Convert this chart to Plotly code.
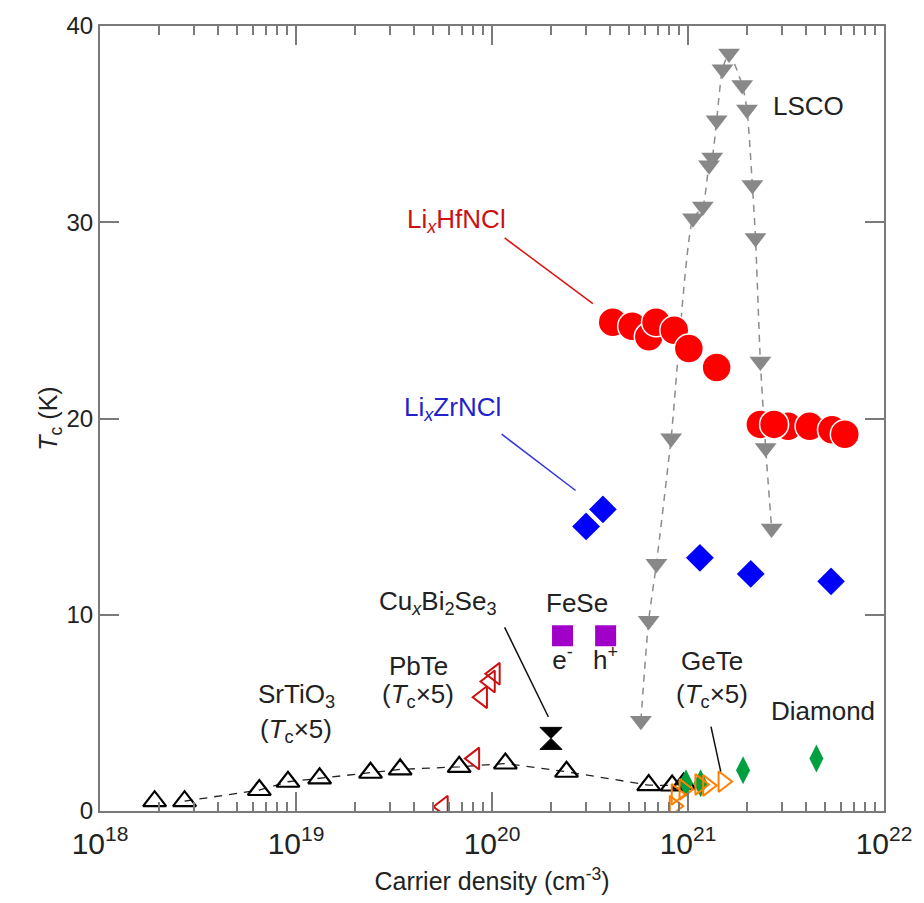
import numpy as np
import plotly.graph_objects as go

FONT = "Liberation Sans, Arial, sans-serif"

# ---------------- data ----------------
sto_n = [1.9e18, 2.7e18, 6.5e18, 9.1e18, 1.32e19, 2.4e19, 3.4e19, 6.8e19, 1.17e20,
         2.4e20, 6.3e20, 8.3e20, 9.5e20]
sto_tc = [0.5, 0.5, 1.07, 1.49, 1.66, 1.95, 2.12, 2.25, 2.42, 2.0, 1.32, 1.3, 1.4]

lsco_n = [5.75e20, 6.3e20, 6.9e20, 8.2e20, 1.06e21, 1.19e21, 1.28e21, 1.33e21, 1.40e21,
          1.50e21, 1.62e21, 1.89e21, 2.0e21, 2.13e21, 2.21e21, 2.34e21, 2.49e21, 2.67e21]
lsco_tc = [4.6, 9.7, 12.6, 19.0, 30.2, 30.8, 32.9, 33.3, 35.2, 37.8, 38.6,
           37.0, 35.75, 31.9, 29.2, 22.9, 18.5, 14.4]

hf_n = [4.13e20, 5.19e20, 6.31e20, 6.87e20, 8.51e20, 1.01e21, 1.40e21,
        2.34e21, 3.24e21, 2.75e21, 4.17e21, 5.43e21, 6.31e21]
hf_tc = [24.9, 24.7, 24.16, 24.9, 24.5, 23.57, 22.6,
         19.7, 19.6, 19.7, 19.6, 19.43, 19.2]

zr_n = [3.02e20, 3.68e20, 1.15e21, 2.09e21, 5.37e21]
zr_tc = [14.5, 15.37, 12.9, 12.08, 11.7]

pbte_n = [1.035e20, 9.77e19, 8.91e19, 8.13e19, 5.62e19]
pbte_tc = [6.99, 6.6, 5.8, 2.67, 0.22]

cubise_n = [2.0e20]
cubise_tc = [3.7]

fese_n = [2.29e20, 3.80e20]
fese_tc = [8.93, 8.93]
fese_carrier = ["e<sup>-</sup>", "h<sup>+</sup>"]

gete_n = [8.51e20, 8.71e20, 9.55e20, 1.15e21, 1.26e21, 1.51e21]
gete_tc = [0.25, 0.85, 1.1, 1.35, 1.3, 1.5]

diamond_n = [9.77e20, 1.16e21, 1.91e21, 4.52e21]
diamond_tc = [1.41, 1.41, 2.08, 2.67]

# label positions (carrier density, Tc) and texts
labels = [
    ("LSCO", 4.1e21, 35.9, "#222222"),
    ("Li<sub><i>x</i></sub>HfNCl", 6.6e19, 30.1, "#CC1111"),
    ("Li<sub><i>x</i></sub>ZrNCl", 6.3e19, 20.5, "#2222CC"),
    ("Cu<sub><i>x</i></sub>Bi<sub>2</sub>Se<sub>3</sub>", 5.3e19, 10.6, "#222222"),
    ("FeSe", 2.7e20, 10.6, "#222222"),
    ("PbTe", 4.2e19, 7.4, "#222222"),
    ("(<i>T</i><sub>c</sub>×5)", 4.2e19, 5.9, "#222222"),
    ("SrTiO<sub>3</sub>", 1.0e19, 5.9, "#222222"),
    ("(<i>T</i><sub>c</sub>×5)", 1.0e19, 4.1, "#222222"),
    ("GeTe", 1.33e21, 7.66, "#222222"),
    ("(<i>T</i><sub>c</sub>×5)", 1.33e21, 5.9, "#222222"),
    ("Diamond", 4.9e21, 5.1, "#222222"),
]

# leader lines: (n0, tc0, n1, tc1, color)
leaders = [
    (1.16e20, 29.2, 3.27e20, 25.85, "#DD1111"),
    (1.12e20, 19.2, 2.67e20, 16.33, "#3333DD"),
    (1.16e20, 9.36, 1.94e20, 4.79, "#111111"),
    (1.31e21, 4.3, 1.47e21, 2.0, "#111111"),
]

fig = go.Figure()

for n0, t0, n1, t1, c in leaders:
    fig.add_trace(go.Scatter(x=[n0, n1], y=[t0, t1], mode="lines",
                             line=dict(color=c, width=1.5), hoverinfo="skip"))

fig.add_trace(go.Scatter(x=sto_n[1:], y=sto_tc[1:], mode="lines",
                         line=dict(color="#222222", width=1.3, dash="8px,7px")))

fig.add_trace(go.Scatter(x=lsco_n, y=lsco_tc, mode="lines",
                         line=dict(color="#8C8C8C", width=1.5, dash="7px,6px", shape="spline", smoothing=0.6)))
fig.add_trace(go.Scatter(x=lsco_n, y=lsco_tc, mode="markers",
                         marker=dict(symbol="triangle-down", size=19, color="#888888",
                                     line=dict(color="#888888", width=0))))

fig.add_trace(go.Scatter(x=hf_n, y=hf_tc, mode="markers",
                         marker=dict(symbol="circle", size=29, color="#FF0000",
                                     line=dict(color="white", width=1.5))))

fig.add_trace(go.Scatter(x=zr_n, y=zr_tc, mode="markers",
                         marker=dict(symbol="diamond", size=23, color="#0000FF",
                                     line=dict(color="white", width=1.5))))

fig.add_trace(go.Scatter(x=fese_n, y=fese_tc, mode="markers+text",
                         marker=dict(symbol="square", size=21, color="#A000C8"),
                         text=fese_carrier, textposition="bottom center",
                         textfont=dict(family=FONT, size=26, color="#222222")))

fig.add_trace(go.Scatter(x=pbte_n, y=pbte_tc, mode="markers",
                         marker=dict(symbol="triangle-left-open", size=19, color="#CC1111",
                                     line=dict(color="#CC1111", width=2))))

fig.add_trace(go.Scatter(x=sto_n, y=sto_tc, mode="markers",
                         marker=dict(symbol="triangle-up-open", size=20, color="#000000",
                                     line=dict(color="#000000", width=2.2))))

fig.add_trace(go.Scatter(x=diamond_n, y=diamond_tc, mode="markers",
                         marker=dict(symbol="diamond-tall", size=20, color="#00A040",
                                     line=dict(color="#00A040", width=0))))

fig.add_trace(go.Scatter(x=gete_n, y=gete_tc, mode="markers",
                         marker=dict(symbol="triangle-right-open", size=18, color="#FF8000",
                                     line=dict(color="#FF8000", width=2))))

fig.add_trace(go.Scatter(x=cubise_n, y=cubise_tc, mode="markers",
                         marker=dict(symbol="hourglass", size=22, color="#000000",
                                     line=dict(color="#000000", width=1))))

for txt, n, tc, col in labels:
    fig.add_annotation(x=np.log10(n), y=tc, xref="x", yref="y", text=txt,
                       showarrow=False, font=dict(family=FONT, size=26, color=col))

axis_col = "#7A7A7A"
fig.update_layout(
    width=924, height=903,
    margin=dict(l=100, r=34, t=23, b=92),
    plot_bgcolor="white", paper_bgcolor="white",
    showlegend=False,
    font=dict(family=FONT, size=25, color="#222222"),
    xaxis=dict(type="log", range=[18, 22], dtick=1, exponentformat="power",
               showexponent="all",
               ticks="inside", ticklen=19, tickwidth=2, tickcolor=axis_col,
               mirror="ticks", showline=True, linecolor=axis_col, linewidth=2,
               showgrid=False, zeroline=False, ticklabelstandoff=6,
               minor=dict(ticks="inside", ticklen=9, tickwidth=1.5, tickcolor=axis_col,
                          dtick="D1", showgrid=False),
               tickfont=dict(family=FONT, size=24, color="#222222"),
               title=dict(text="Carrier density (cm<sup>-3</sup>)",
                          font=dict(family=FONT, size=25, color="#222222"), standoff=14)),
    yaxis=dict(range=[0, 40], dtick=10,
               ticks="inside", ticklen=19, tickwidth=2, tickcolor=axis_col,
               mirror="ticks", showline=True, linecolor=axis_col, linewidth=2,
               showgrid=False, zeroline=False,
               tickfont=dict(family=FONT, size=24, color="#222222"),
               title=dict(text="<i>T</i><sub>c</sub> (K)",
                          font=dict(family=FONT, size=25, color="#222222"), standoff=2)),
)

fig.write_html("out.html")
